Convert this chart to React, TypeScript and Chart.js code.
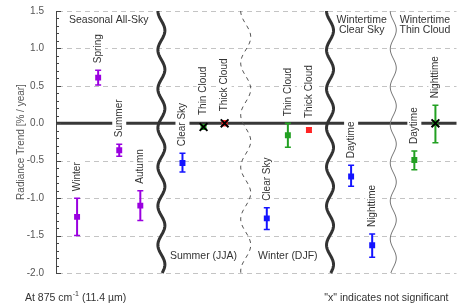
import React, { useEffect, useRef } from 'react';
import { Chart, registerables } from 'chart.js';

Chart.register(...registerables);

// ---------- data ----------
const yTickValues = [1.5, 1.0, 0.5, 0.0, -0.5, -1.0, -1.5, -2.0];
const pointLabels = ['Winter', 'Spring', 'Summer', 'Autumn', 'Clear Sky', 'Thin Cloud', 'Thick Cloud', 'Clear Sky', 'Thin Cloud', 'Thick Cloud', 'Daytime', 'Nighttime', 'Daytime', 'Nighttime'];
const xSlots = [1, 2, 3, 4, 6, 7, 8, 10, 11, 12, 14, 15, 17, 18];
const trendValues = [-1.25, 0.61, -0.36, -1.1, -0.53, -0.05, 0.0, -1.27, -0.16, -0.09, -0.71, -1.63, -0.49, 0.0];
const errorLow = [-1.5, 0.51, -0.44, -1.3, -0.65, -0.08, -0.03, -1.42, -0.32, -0.12, -0.84, -1.79, -0.62, -0.26];
const errorHigh = [-1.0, 0.71, -0.28, -0.9, -0.4, -0.02, 0.03, -1.13, 0.0, -0.06, -0.56, -1.48, -0.37, 0.24];
const groups = ['seasonal', 'seasonal', 'seasonal', 'seasonal', 'clear', 'thin', 'thick', 'clear', 'thin', 'thick', 'clear', 'clear', 'thin', 'thin'];
const notSignificant = [false, false, false, false, false, true, true, false, false, false, false, false, false, true];
const dividerSlots = [5, 9, 13, 16];
const dividerKinds = ['thick', 'dashed', 'thick', 'thin'];
const regionTitles = [['Seasonal All-Sky'], ['Wintertime', 'Clear Sky'], ['Wintertime', 'Thin Cloud']];
const regionTitleSlots = [2.5, 14.5, 17.5];
const seasonNames = ['Summer (JJA)', 'Winter (DJF)'];
const seasonSlots = [7, 11];
const yAxisTitle = 'Radiance Trend [% / year]';
const noteLeftMain = 'At 875 cm';
const noteLeftSup = '-1';
const noteLeftTail = ' (11.4 \u00b5m)';
const noteRight = '"x" indicates not significant';

const groupColors: Record<string, string> = {
  seasonal: '#9a00e0',
  clear: '#1414ff',
  thin: '#22a022',
  thick: '#ff2424',
};

const FONT = '"Liberation Sans", Arial, Helvetica, sans-serif';

const decorPlugin = {
  id: 'decor',
  beforeDatasetsDraw(chart: any) {
    const { ctx, chartArea } = chart;
    const xs = chart.scales.x;
    const ys = chart.scales.y;
    const { left, right, top, bottom } = chartArea;
    ctx.save();

    // dashed grid lines
    ctx.strokeStyle = '#c4c4c4';
    ctx.lineWidth = 1;
    ctx.setLineDash([5, 4]);
    yTickValues.forEach((v) => {
      if (v === 0) return;
      const y = Math.round(ys.getPixelForValue(v)) + 0.5;
      ctx.beginPath();
      ctx.moveTo(left + 2, y);
      ctx.lineTo(right, y);
      ctx.stroke();
    });
    ctx.setLineDash([]);

    // zero line
    const y0 = ys.getPixelForValue(0);
    ctx.strokeStyle = '#383838';
    ctx.lineWidth = 3;
    ctx.beginPath();
    ctx.moveTo(left, y0);
    ctx.lineTo(right, y0);
    ctx.stroke();

    // inward tick marks (major + minor)
    ctx.strokeStyle = '#444';
    ctx.lineWidth = 1;
    const minV = ys.min;
    const maxV = ys.max;
    const n = Math.round((maxV - minV) / 0.1);
    for (let k = 0; k <= n; k++) {
      const v = minV + k * 0.1;
      const major = k % 5 === 0;
      const y = Math.round(ys.getPixelForValue(v)) + 0.5;
      ctx.beginPath();
      ctx.moveTo(left, y);
      ctx.lineTo(left + (major ? 5 : 3), y);
      ctx.stroke();
    }

    // wavy dividers
    dividerSlots.forEach((slot, i) => {
      const kind = dividerKinds[i];
      const cx = xs.getPixelForValue(slot);
      let amp = 3.5, period = 39, lw = 3, color = '#333';
      if (kind === 'dashed') { amp = 5; period = 52; lw = 1; color = '#555'; ctx.setLineDash([4, 4]); }
      if (kind === 'thin') { amp = 3; period = 38; lw = 1; color = '#777'; }
      ctx.strokeStyle = color;
      ctx.lineWidth = lw;
      ctx.beginPath();
      for (let y = top; y <= bottom; y += 1) {
        const x = cx - amp * Math.cos((2 * Math.PI * (y - top)) / period);
        if (y === top) ctx.moveTo(x, y); else ctx.lineTo(x, y);
      }
      ctx.stroke();
      ctx.setLineDash([]);
    });

    // region titles
    ctx.fillStyle = '#333';
    ctx.font = `10.5px ${FONT}`;
    ctx.textAlign = 'center';
    ctx.textBaseline = 'middle';
    regionTitles.forEach((lines, i) => {
      const cx = xs.getPixelForValue(regionTitleSlots[i]);
      lines.forEach((line, j) => {
        ctx.fillText(line, cx, top + 9 + j * 10);
      });
    });
    seasonNames.forEach((name, i) => {
      const cx = xs.getPixelForValue(seasonSlots[i]);
      ctx.fillText(name, cx, bottom - 17);
    });

    // rotated point labels with white boxes
    ctx.font = `10px ${FONT}`;
    pointLabels.forEach((label, i) => {
      const x = xs.getPixelForValue(xSlots[i]);
      const topY = Math.min(ys.getPixelForValue(errorHigh[i]), ys.getPixelForValue(trendValues[i]) - 5);
      const base = topY - 7;
      const w = ctx.measureText(label).width;
      ctx.fillStyle = '#fff';
      ctx.fillRect(x - 7, base - w - 2, 14, w + 4);
      ctx.save();
      ctx.translate(x, base);
      ctx.rotate(-Math.PI / 2);
      ctx.fillStyle = '#333';
      ctx.textAlign = 'left';
      ctx.textBaseline = 'middle';
      ctx.fillText(label, 0, 0);
      ctx.restore();
    });

    // error bars
    trendValues.forEach((_, i) => {
      const x = xs.getPixelForValue(xSlots[i]);
      const yl = ys.getPixelForValue(errorLow[i]);
      const yh = ys.getPixelForValue(errorHigh[i]);
      ctx.strokeStyle = groupColors[groups[i]];
      ctx.lineWidth = 2;
      ctx.beginPath();
      ctx.moveTo(x, yl);
      ctx.lineTo(x, yh);
      ctx.stroke();
      ctx.lineWidth = 1.5;
      ctx.beginPath();
      ctx.moveTo(x - 3, yl);
      ctx.lineTo(x + 3, yl);
      ctx.moveTo(x - 3, yh);
      ctx.lineTo(x + 3, yh);
      ctx.stroke();
    });

    ctx.restore();
  },
  afterDraw(chart: any) {
    const { ctx, chartArea, height } = chart;
    ctx.save();
    ctx.fillStyle = '#333';
    ctx.textBaseline = 'middle';
    const yText = height - 7;
    ctx.font = `10.5px ${FONT}`;
    ctx.textAlign = 'left';
    let x = 25;
    ctx.fillText(noteLeftMain, x, yText);
    x += ctx.measureText(noteLeftMain).width;
    ctx.font = `7px ${FONT}`;
    ctx.fillText(noteLeftSup, x + 0.5, yText - 4);
    x += ctx.measureText(noteLeftSup).width + 0.5;
    ctx.font = `10.5px ${FONT}`;
    ctx.fillText(noteLeftTail, x, yText);
    ctx.textAlign = 'right';
    ctx.fillText(noteRight, chartArea.right - 8, yText);
    ctx.restore();
  },
};

export default function App() {
  const canvasRef = useRef<HTMLCanvasElement | null>(null);

  useEffect(() => {
    if (!canvasRef.current) return;
    Chart.defaults.font.family = FONT;
    const colors = groups.map((g) => groupColors[g]);
    const chart = new Chart(canvasRef.current, {
      type: 'scatter',
      data: {
        datasets: [
          {
            label: 'not significant',
            data: xSlots
              .map((x, i) => ({ x, y: trendValues[i], ns: notSignificant[i] }))
              .filter((p) => p.ns)
              .map((p) => ({ x: p.x, y: p.y })),
            pointStyle: 'crossRot',
            pointRadius: 5.5,
            pointBorderColor: '#000',
            pointBackgroundColor: '#000',
            pointBorderWidth: 2,
            showLine: false,
            order: 0,
          } as any,
          {
            label: 'trend',
            data: xSlots.map((x, i) => ({ x, y: trendValues[i] })),
            pointStyle: 'rect',
            pointRadius: 4.2,
            pointBackgroundColor: colors,
            pointBorderColor: colors,
            pointBorderWidth: 0,
            showLine: false,
            order: 1,
          } as any,
        ],
      },
      options: {
        animation: false,
        responsive: false,
        maintainAspectRatio: false,
        layout: { padding: { left: 0, right: 4, top: 11, bottom: 32 } },
        plugins: {
          legend: { display: false },
          tooltip: { enabled: false },
        },
        scales: {
          x: { type: 'linear', min: 0, max: 19, display: false },
          y: {
            type: 'linear',
            min: -2,
            max: 1.5,
            ticks: {
              stepSize: 0.5,
              padding: 12,
              color: '#555',
              font: { size: 10, family: FONT },
              callback: (v: any) => Number(v).toFixed(1),
            },
            grid: { display: false, drawTicks: false },
            border: { display: true, color: '#444', width: 1 },
            title: {
              display: true,
              text: yAxisTitle,
              color: '#555',
              font: { size: 10, family: FONT },
              padding: { top: 15, bottom: 0 },
            },
            afterFit: (s: any) => {
              s.width = 56;
              s.paddingTop = 0;
              s.paddingBottom = 0;
            },
          },
        },
      },
      plugins: [decorPlugin],
    });
    return () => chart.destroy();
  }, []);

  return (
    <div style={{ position: 'fixed', left: 0, top: 0, width: 464, height: 305, background: '#fff' }}>
      <canvas ref={canvasRef} width={464} height={305} style={{ display: 'block' }} />
    </div>
  );
}
